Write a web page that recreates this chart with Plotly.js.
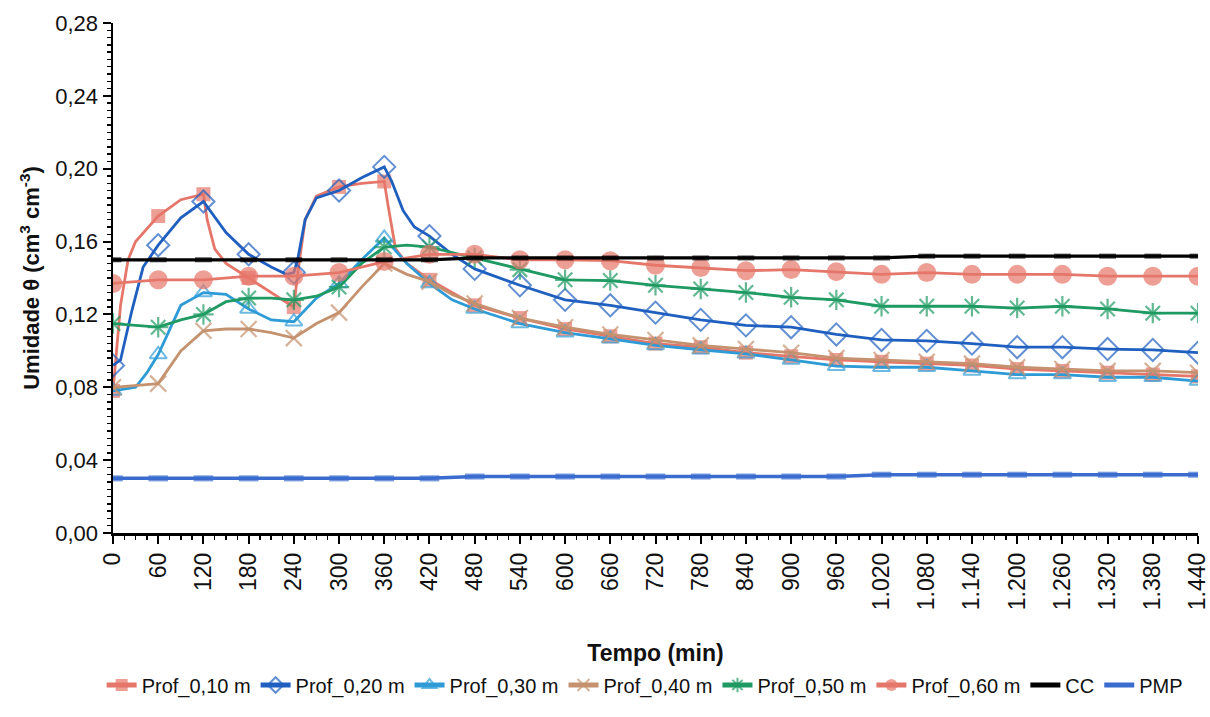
<!DOCTYPE html>
<html>
<head>
<meta charset="utf-8">
<script src="https://cdn.plot.ly/plotly-3.0.1.min.js"></script>
<style>
  html, body { margin: 0; padding: 0; background: #fff; }
  #chart { width: 1210px; height: 717px; }
</style>
</head>
<body>
<div id="chart"></div>
<script>
// ---- Data ----
const names = ["Prof_0,10 m", "Prof_0,20 m", "Prof_0,30 m", "Prof_0,40 m", "Prof_0,50 m", "Prof_0,60 m", "CC", "PMP"];

const hourly = [0,60,120,180,240,300,360,420,480,540,600,660,720,780,840,900,960,1020,1080,1140,1200,1260,1320,1380,1440];
const tailX = [480,540,600,660,720,780,840,900,960,1020,1080,1140,1200,1260,1320,1380,1440];

const x10 = [0,10,20,30,60,90,120,125,135,150,180,210,240,245,255,270,300,330,360,365,375,390,420].concat(tailX);
const y10 = [0.078,0.125,0.150,0.160,0.174,0.183,0.186,0.172,0.156,0.148,0.140,0.132,0.124,0.142,0.172,0.185,0.190,0.192,0.193,0.180,0.156,0.148,0.139,
             0.125,0.118,0.112,0.108,0.104,0.102,0.099,0.097,0.095,0.094,0.093,0.092,0.090,0.089,0.088,0.087,0.086];

const x20 = [0,10,25,40,60,90,120,150,180,210,230,240,245,255,270,300,330,360,370,385,400,420,450].concat(tailX);
const y20 = [0.092,0.095,0.122,0.146,0.158,0.173,0.182,0.165,0.153,0.146,0.142,0.143,0.150,0.172,0.184,0.188,0.195,0.201,0.193,0.177,0.168,0.163,0.153,
             0.145,0.136,0.128,0.125,0.121,0.117,0.114,0.113,0.109,0.106,0.1055,0.104,0.102,0.102,0.101,0.1005,0.099];

const x30 = [0,30,45,60,90,120,150,180,210,240,270,300,330,360,390,420,450].concat(tailX);
const y30 = [0.078,0.080,0.088,0.098,0.125,0.132,0.131,0.123,0.117,0.116,0.129,0.137,0.150,0.162,0.148,0.137,0.128,
             0.123,0.115,0.110,0.1066,0.103,0.1006,0.0984,0.095,0.0916,0.091,0.091,0.089,0.087,0.087,0.0855,0.0855,0.0834];

const x40 = [0,30,60,90,120,150,180,210,240,270,300,330,360,390,420,450].concat(tailX);
const y40 = [0.080,0.081,0.082,0.100,0.111,0.112,0.112,0.110,0.107,0.115,0.121,0.135,0.148,0.142,0.138,0.131,
             0.126,0.118,0.113,0.109,0.106,0.103,0.101,0.099,0.096,0.095,0.094,0.093,0.091,0.090,0.089,0.089,0.088];

const x50 = [0,30,60,90,120,150,180,210,240,270,300,330,360,390,420,450].concat(tailX);
const y50 = [0.115,0.114,0.113,0.117,0.120,0.127,0.129,0.129,0.128,0.130,0.135,0.148,0.157,0.158,0.157,0.154,
             0.151,0.1446,0.139,0.1386,0.136,0.134,0.132,0.1294,0.128,0.1245,0.1245,0.1245,0.1235,0.1245,0.123,0.1207,0.1207];

const y60 = [0.137,0.139,0.139,0.141,0.141,0.143,0.149,0.153,0.153,0.150,0.150,0.1495,0.147,0.1457,0.144,0.1446,0.1435,0.142,0.143,0.142,0.142,0.142,0.141,0.141,0.141];

const yCC  = [0.150,0.150,0.150,0.150,0.150,0.150,0.150,0.150,0.151,0.151,0.151,0.151,0.151,0.151,0.151,0.151,0.151,0.151,0.152,0.152,0.152,0.152,0.152,0.152,0.152];
const yPMP = [0.030,0.030,0.030,0.030,0.030,0.030,0.030,0.030,0.031,0.031,0.031,0.031,0.031,0.031,0.031,0.031,0.031,0.032,0.032,0.032,0.032,0.032,0.032,0.032,0.032];

// ---- Styles ----
const FONT = "Liberation Sans, Arial, sans-serif";
function sizes(xs, s) { return xs.map(t => (t % 60 === 0 ? s : 0)); }

function series(name, xs, ys, color, symbol, msize, lineW, mline) {
  return {
    type: "scatter", mode: "lines+markers", name: name, x: xs, y: ys,
    line: { color: color, width: lineW },
    marker: { symbol: symbol, size: sizes(xs, msize), color: color,
              line: { color: color, width: mline } }
  };
}

const traces = [
  series(names[0], x10, y10, "#E5766A", "square", 14, 2.8, 0),
  series(names[1], x20, y20, "#1F5FBF", "diamond-open", 17, 2.8, 2),
  series(names[2], x30, y30, "#2E9BD6", "triangle-up-open", 15, 2.8, 2),
  series(names[3], x40, y40, "#C4926E", "x-thin-open", 16, 2.8, 2.2),
  series(names[4], x50, y50, "#1E9A62", "asterisk-open", 17, 2.8, 2.2),
  series(names[5], hourly, y60, "#E5766A", "circle", 19, 2.8, 0),
  series(names[6], hourly, yCC, "#000000", "line-ew-open", 12, 3.2, 5),
  series(names[7], hourly, yPMP, "#3A6CCF", "line-ew-open", 14, 3.5, 6)
];

const layout = {
  width: 1210, height: 717,
  margin: { l: 113, r: 12, t: 23, b: 179 },
  paper_bgcolor: "#ffffff", plot_bgcolor: "#ffffff",
  separators: ",.",
  font: { family: FONT, size: 22, color: "#111" },
  showlegend: true,
  legend: {
    orientation: "h", x: 0.49, xanchor: "center", y: -0.298, yanchor: "middle",
    font: { family: FONT, size: 20, color: "#111" },
    itemsizing: "constant", itemwidth: 30, tracegroupgap: 0
  },
  xaxis: {
    range: [0, 1440], tickmode: "linear", tick0: 0, dtick: 60,
    tickformat: ",d", tickangle: -90, ticklabeloverflow: "allow",
    showgrid: false, zeroline: false,
    showline: true, linecolor: "#000", linewidth: 2.5,
    ticks: "outside", ticklen: 8, tickwidth: 2, tickcolor: "#000",
    minor: { dtick: 15, tick0: 0, ticks: "outside", ticklen: 4, tickwidth: 1.5, tickcolor: "#000", showgrid: false },
    tickfont: { family: FONT, size: 23, color: "#111" },
    title: { text: "<b>Tempo (min)</b>", font: { family: FONT, size: 23, color: "#111" }, standoff: 36 }
  },
  yaxis: {
    range: [0, 0.28], tickmode: "linear", tick0: 0, dtick: 0.04,
    tickformat: ".2f",
    showgrid: false, zeroline: false,
    showline: true, linecolor: "#000", linewidth: 2.5,
    ticks: "outside", ticklen: 8, tickwidth: 2, tickcolor: "#000",
    minor: { dtick: 0.004, tick0: 0, ticks: "outside", ticklen: 4, tickwidth: 1.5, tickcolor: "#000", showgrid: false },
    tickfont: { family: FONT, size: 22, color: "#111" },
    title: { text: "<b>Umidade θ (cm<sup>3</sup> cm<sup>-3</sup>)</b>", font: { family: FONT, size: 22, color: "#111" }, standoff: 10 }
  }
};

Plotly.newPlot("chart", traces, layout, { displayModeBar: false, staticPlot: true });
</script>
</body>
</html>
